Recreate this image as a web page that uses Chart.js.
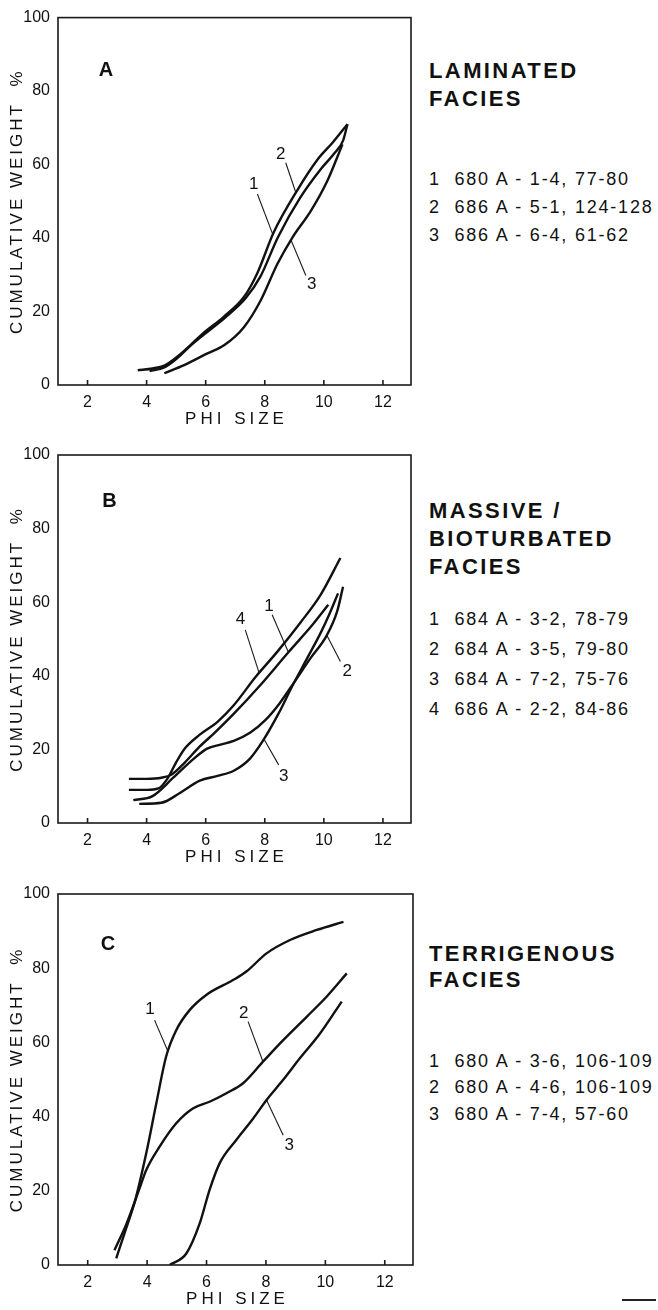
<!DOCTYPE html>
<html>
<head>
<meta charset="utf-8">
<script src="https://cdn.jsdelivr.net/npm/chart.js@4.4.0/dist/chart.umd.min.js"></script>
<style>
  body { margin: 0; background: #fff; width: 658px; height: 1310px; position: relative; overflow: hidden;
         font-family: "Liberation Sans", Arial, sans-serif; color: #111; }
  canvas { position: absolute; left: 0; }
  .t { position: absolute; left: 429px; white-space: pre; line-height: 1; }
  .h { font-weight: bold; font-size: 22px; letter-spacing: 2.4px; }
  .l { font-size: 18px; letter-spacing: 1.8px; }
  #dash { position: absolute; left: 622px; top: 1299px; width: 34px; height: 1.5px; background: #222; }
</style>
</head>
<body>
<canvas id="chartA" width="420" height="440" style="top:0px"></canvas>
<canvas id="chartB" width="420" height="440" style="top:430px"></canvas>
<canvas id="chartC" width="420" height="440" style="top:870px"></canvas>

<div class="t h" style="top:60px">LAMINATED</div>
<div class="t h" style="top:88px">FACIES</div>
<div class="t l" style="top:170px">1  680 A - 1-4, 77-80</div>
<div class="t l" style="top:198px">2  686 A - 5-1, 124-128</div>
<div class="t l" style="top:226px">3  686 A - 6-4, 61-62</div>

<div class="t h" style="top:500px">MASSIVE /</div>
<div class="t h" style="top:528px">BIOTURBATED</div>
<div class="t h" style="top:556px">FACIES</div>
<div class="t l" style="top:610px">1  684 A - 3-2, 78-79</div>
<div class="t l" style="top:640px">2  684 A - 3-5, 79-80</div>
<div class="t l" style="top:670px">3  684 A - 7-2, 75-76</div>
<div class="t l" style="top:700px">4  686 A - 2-2, 84-86</div>

<div class="t h" style="top:943px">TERRIGENOUS</div>
<div class="t h" style="top:969px">FACIES</div>
<div class="t l" style="top:1052px">1  680 A - 3-6, 106-109</div>
<div class="t l" style="top:1078px">2  680 A - 4-6, 106-109</div>
<div class="t l" style="top:1105px">3  680 A - 7-4, 57-60</div>
<div id="dash"></div>

<script>
// axes
const phiMin = 1, phiMax = 12.95;
const xTicks = [2, 4, 6, 8, 10, 12];
const yTicks = [0, 20, 40, 60, 80, 100];

// panel A - laminated facies  [phi, cumulative weight %]
const a1 = [[3.7,4],[4.2,4.5],[4.6,5.3],[5.05,7.8],[5.5,11],[5.9,14],[6.6,18.5],[7.3,24],[7.75,30.5],[8.3,41.5],[9.1,53],[9.8,61.5],[10.3,66],[10.8,71]];
const a2 = [[4.1,3.8],[4.6,4.8],[5.05,7.4],[5.5,10.8],[5.95,13.8],[6.65,18.3],[7.35,23.6],[7.85,29.5],[8.45,40.3],[9.2,51],[9.9,58.8],[10.35,63],[10.65,66.5],[10.8,71]];
const a3 = [[4.6,3.2],[5.27,5.4],[6.06,8.6],[6.62,10.8],[7.3,15.8],[7.86,23],[8.43,33],[8.94,40.2],[9.56,47.4],[10.12,55.6],[10.63,65.5]];
const aLeaders = [[[7.75,52],[8.27,41]], [[8.71,60.5],[9.05,52.4]], [[9.39,29.8],[8.88,39.6]]];
const aLabels = [[7.63,54.6,'1'], [8.54,62.9,'2'], [9.59,27.4,'3']];

// panel B - massive / bioturbated facies
const b1 = [[3.4,12],[4.0,12],[4.5,12.3],[4.85,13.2],[5.3,16.5],[5.8,20.8],[6.3,24.5],[6.93,29.5],[7.83,37.3],[8.8,46.4],[9.63,54],[10.15,59.3]];
const b2 = [[3.55,6.2],[4.2,7.3],[4.9,12.3],[5.6,17.5],[6.05,20.2],[6.5,21.3],[6.95,22.3],[7.5,24.5],[8.0,27.8],[8.5,32.5],[9.0,38.3],[9.55,44.8],[10.1,51],[10.45,57.5],[10.65,64.2]];
const b3 = [[3.75,5.2],[4.5,5.5],[5.1,8],[5.8,11.5],[6.4,12.8],[6.95,14.2],[7.5,17.5],[7.95,22.5],[8.45,29.5],[8.95,37.5],[9.45,45],[9.9,51.8],[10.2,57],[10.48,62.4]];
const b4 = [[3.4,9],[4.0,9],[4.4,9.4],[4.7,12],[5.0,16.5],[5.3,20.3],[5.8,24],[6.4,27.5],[6.95,32],[7.7,39.8],[8.42,46.5],[9.21,54.5],[9.89,62],[10.56,72]];
const bLeaders = [[[8.25,56.6],[8.8,46.4]], [[10.56,43.9],[10.1,51]], [[8.47,15.8],[7.97,22.8]], [[7.34,52.5],[7.8,41]]];
const bLabels = [[8.14,59,'1'], [10.79,41.2,'2'], [8.64,12.7,'3'], [7.18,55.4,'4']];

// panel C - terrigenous facies
const c1 = [[2.96,1.8],[3.3,10],[3.6,17.5],[3.97,30.1],[4.31,43.6],[4.64,56.2],[4.98,63.3],[5.43,68.7],[5.99,72.8],[6.89,76.8],[7.34,79.1],[8.02,84],[8.81,87.6],[9.71,90.3],[10.61,92.5]];
const c2 = [[2.9,4],[3.3,11],[3.74,20.5],[3.97,25.6],[4.42,31.9],[4.98,38.2],[5.54,42.2],[6.1,44],[6.67,46.3],[7.23,49],[7.9,54.8],[8.58,60.6],[9.37,66.9],[10.04,72.3],[10.72,78.6]];
const c3 = [[4.76,0],[5.32,3.1],[5.77,11.2],[6.1,20.2],[6.44,27.4],[7.0,33.7],[7.57,39.5],[8.02,44.5],[8.58,49.9],[9.14,55.7],[9.82,62.4],[10.55,71]];
const cLeaders = [[[4.25,66],[4.7,57.6]], [[7.4,65.6],[7.9,54.8]], [[8.58,35],[8.02,44.5]]];
const cLabels = [[4.1,68.9,'1'], [7.25,67.8,'2'], [8.78,32.3,'3']];

const FONT = '"Liberation Sans", Arial, sans-serif';
const INK = '#111';

// frame, inward ticks, axis titles and curve numbers
const framePlugin = {
  id: 'frame',
  afterDatasetsDraw(chart, args, opts) {
    const { ctx, chartArea: a, scales: { x, y } } = chart;
    ctx.save();
    ctx.strokeStyle = '#1a1a1a';
    ctx.lineWidth = 1.6;
    ctx.strokeRect(a.left, a.top, a.right - a.left, a.bottom - a.top);
    ctx.beginPath();
    xTicks.forEach(v => {
      const px = x.getPixelForValue(v);
      ctx.moveTo(px, a.bottom);
      ctx.lineTo(px, a.bottom - 5);
    });
    ctx.stroke();

    ctx.fillStyle = INK;
    ctx.textAlign = 'center';
    ctx.textBaseline = 'middle';
    ctx.font = '17px ' + FONT;
    ctx.letterSpacing = '3px';
    ctx.save();
    ctx.translate(17, (a.top + a.bottom) / 2);
    ctx.rotate(-Math.PI / 2);
    ctx.fillText('CUMULATIVE WEIGHT  %', 0, 0);
    ctx.restore();
    ctx.letterSpacing = '4px';
    ctx.fillText('PHI SIZE', (a.left + a.right) / 2 + 2, a.bottom + 34);
    ctx.letterSpacing = '0px';

    ctx.font = 'bold 20px ' + FONT;
    ctx.fillText(opts.letter[2], x.getPixelForValue(opts.letter[0]), y.getPixelForValue(opts.letter[1]));
    ctx.font = '17px ' + FONT;
    opts.labels.forEach(l => {
      ctx.fillText(l[2], x.getPixelForValue(l[0]), y.getPixelForValue(l[1]));
    });
    ctx.restore();
  }
};

function toXY(pts) {
  return pts.map(p => ({ x: p[0], y: p[1] }));
}

function makePanel(id, curves, leaders, labels, letter, box) {
  const datasets = curves.map(c => ({
    data: toXY(c),
    borderColor: '#111',
    borderWidth: 2.4,
    pointRadius: 0,
    cubicInterpolationMode: 'monotone',
    fill: false
  }));
  leaders.forEach(l => datasets.push({
    data: toXY(l),
    borderColor: '#1a1a1a',
    borderWidth: 1.1,
    pointRadius: 0,
    tension: 0,
    fill: false
  }));

  new Chart(document.getElementById(id), {
    type: 'line',
    data: { datasets },
    plugins: [framePlugin],
    options: {
      responsive: false,
      animation: false,
      events: [],
      layout: { padding: { top: box.top, right: box.right, left: 0, bottom: 0 } },
      plugins: {
        legend: { display: false },
        tooltip: { enabled: false },
        frame: { letter, labels }
      },
      scales: {
        x: {
          type: 'linear',
          min: phiMin,
          max: phiMax,
          afterBuildTicks: s => { s.ticks = xTicks.map(v => ({ value: v })); },
          afterFit: s => { s.height = box.xh; },
          grid: { display: false, drawTicks: false },
          border: { display: false },
          ticks: { color: INK, font: { family: FONT, size: 16 }, padding: 8, maxRotation: 0 }
        },
        y: {
          type: 'linear',
          min: 0,
          max: 100,
          afterBuildTicks: s => { s.ticks = yTicks.map(v => ({ value: v })); },
          afterFit: s => { s.width = 58; },
          grid: { display: false, drawTicks: false },
          border: { display: false },
          ticks: { color: INK, font: { family: FONT, size: 16 }, padding: 8 }
        }
      }
    }
  });
}

makePanel('chartA', [a1, a2, a3], aLeaders, aLabels, [2.62, 85.6, 'A'], { top: 16, right: 9, xh: 55 });
makePanel('chartB', [b1, b2, b3, b4], bLeaders, bLabels, [2.74, 87.5, 'B'], { top: 25, right: 9, xh: 47 });
makePanel('chartC', [c1, c2, c3], cLeaders, cLabels, [2.68, 86.3, 'C'], { top: 24, right: 7, xh: 45 });
</script>
</body>
</html>
